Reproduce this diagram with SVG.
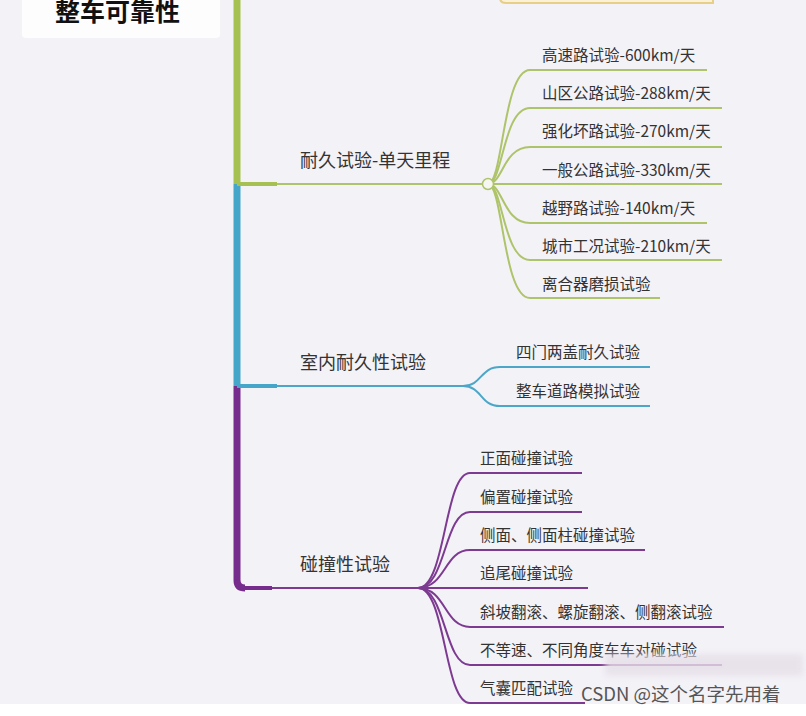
<svg xmlns="http://www.w3.org/2000/svg" width="806" height="716" viewBox="0 0 806 716">
<style>
text{font-family:"Noto Sans CJK SC","Noto Sans",sans-serif;fill:#333}
.main{font-size:18px}
.leaf{font-size:15.5px}
.g{fill:none;stroke:#aec46a;stroke-width:2}
.b{fill:none;stroke:#4ba6c8;stroke-width:2}
.p{fill:none;stroke:#7d3a91;stroke-width:2}
</style>
<defs>
<filter id="blur" x="-10%" y="-50%" width="120%" height="200%"><feGaussianBlur stdDeviation="3"/></filter>
</defs>
<rect width="806" height="716" fill="#f3f2f7"/>
<rect x="0" y="704" width="806" height="12" fill="#ffffff"/>

<g id="top-box">
<path d="M500 -10 V-2 Q500 3 506 3 H713 V-10 Z" fill="#fbf1d6" stroke="#e8cf86" stroke-width="2"/>
</g>

<g id="root">
<rect x="22" y="-6" width="198" height="44" rx="4" fill="#fdfdfe"/>
<text x="55" y="21" style="font-size:25px;font-weight:bold;fill:#111">整车可靠性</text>
</g>

<g id="connectors">
<path d="M237 -2 V184" stroke="#a6c152" stroke-width="7" fill="none"/>
<path d="M237 184 V386" stroke="#45a6c9" stroke-width="7" fill="none"/>
<path d="M237 386 V580 Q237 588 245 588" stroke="#762c8c" stroke-width="7" fill="none"/>
<path d="M237 184 H277" stroke="#a6c152" stroke-width="4"/>
<path d="M237 386 H277" stroke="#45a6c9" stroke-width="4"/>
<path d="M242 588 H272" stroke="#762c8c" stroke-width="4"/>
<path class="g" d="M277 184 H482"/>
<path class="b" d="M277 386 H463"/>
<path class="p" d="M272 588 H418"/>

<path class="g" d="M488 184 C503 184 503 70 530 70 H707"/>
<path class="g" d="M488 184 C503 184 503 108 530 108 H722"/>
<path class="g" d="M488 184 C503 184 503 147 530 147 H722"/>
<path class="g" d="M494 184 H722"/>
<path class="g" d="M488 184 C503 184 503 223 530 223 H707"/>
<path class="g" d="M488 184 C503 184 503 260 530 260 H722"/>
<path class="g" d="M488 184 C503 184 503 298 530 298 H660"/>
<circle cx="488" cy="184" r="5.5" fill="#f6f6f2" stroke="#aec46a" stroke-width="1.5"/>

<path class="b" d="M463 386 C482 386 480 367 500 367 H650"/>
<path class="b" d="M463 386 C482 386 480 406 500 406 H650"/>

<path class="p" d="M418 588 C446 588 444 473 470 473 H582"/>
<path class="p" d="M418 588 C446 588 444 512 470 512 H582"/>
<path class="p" d="M418 588 C446 588 444 550 470 550 H645"/>
<path class="p" d="M418 588 H588"/>
<path class="p" d="M418 588 C446 588 444 627 470 627 H724"/>
<path class="p" d="M418 588 C446 588 444 665 470 665 H722"/>
<path class="p" d="M418 588 C446 588 444 703 470 703 H585"/>
</g>

<g id="n-endurance"><text class="main" x="300" y="167">耐久试验-单天里程</text></g>
<g id="n-indoor"><text class="main" x="300" y="369">室内耐久性试验</text></g>
<g id="n-crash"><text class="main" x="300" y="571">碰撞性试验</text></g>

<g id="g1"><text class="leaf" x="542" y="61">高速路试验-600km/天</text></g>
<g id="g2"><text class="leaf" x="542" y="99">山区公路试验-288km/天</text></g>
<g id="g3"><text class="leaf" x="542" y="137">强化坏路试验-270km/天</text></g>
<g id="g4"><text class="leaf" x="542" y="176">一般公路试验-330km/天</text></g>
<g id="g5"><text class="leaf" x="542" y="214">越野路试验-140km/天</text></g>
<g id="g6"><text class="leaf" x="542" y="252">城市工况试验-210km/天</text></g>
<g id="g7"><text class="leaf" x="542" y="290">离合器磨损试验</text></g>

<g id="b1"><text class="leaf" x="516" y="358">四门两盖耐久试验</text></g>
<g id="b2"><text class="leaf" x="516" y="397">整车道路模拟试验</text></g>

<g id="p1"><text class="leaf" x="480" y="464">正面碰撞试验</text></g>
<g id="p2"><text class="leaf" x="480" y="503">偏置碰撞试验</text></g>
<g id="p3"><text class="leaf" x="480" y="541">侧面、侧面柱碰撞试验</text></g>
<g id="p4"><text class="leaf" x="480" y="579">追尾碰撞试验</text></g>
<g id="p5"><text class="leaf" x="480" y="618">斜坡翻滚、螺旋翻滚、侧翻滚试验</text></g>
<g id="p6"><text class="leaf" x="480" y="656">不等速、不同角度车车对碰试验</text></g>
<g id="p7"><text class="leaf" x="480" y="694">气囊匹配试验</text></g>

<g id="watermark">
<rect x="605" y="654" width="198" height="22" fill="#e6dfe8" opacity="0.8" filter="url(#blur)"/>
<text x="581" y="701" style="font-size:18.5px;fill:#555">CSDN @这个名字先用着</text>
</g>
</svg>
